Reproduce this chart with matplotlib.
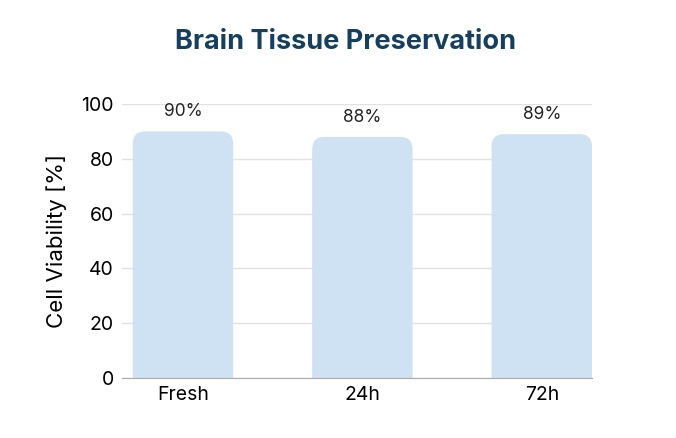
import matplotlib
matplotlib.use("Agg")
import matplotlib.pyplot as plt
from matplotlib.patches import FancyBboxPatch

categories = ["Fresh", "24h", "72h"]
values = [90, 88, 89]
labels = ["90%", "88%", "89%"]

plt.rcParams['font.family'] = ['Inter', 'DejaVu Sans']
fig = plt.figure(figsize=(6.76, 4.38), dpi=100)
ax = fig.add_axes([122/676, 1-378/438, 470/676, 274/438])
ax.set_xlim(-0.34, 2.28)
ax.set_ylim(0, 100)
w = 0.56
for i, v in enumerate(values):
    p = FancyBboxPatch((i - w/2, -6), w, v + 6,
                       boxstyle="round,pad=0,rounding_size=0.07",
                       mutation_aspect=65, fc="#cfe2f3", ec="none", zorder=2)
    ax.add_patch(p)
    ax.text(i, v + 4, labels[i], ha="center", va="bottom", fontsize=12.5, color="#222222")
ax.set_xticks(range(len(categories)))
ax.set_xticklabels(categories, fontsize=14)
ax.set_yticks([0, 20, 40, 60, 80, 100])
ax.tick_params(axis='y', labelsize=14, length=0, pad=6)
ax.tick_params(axis='x', length=0, pad=6)
ax.grid(axis='y', color="#e2e2e2", lw=1, zorder=0)
for s in ['top', 'right', 'left']:
    ax.spines[s].set_visible(False)
ax.spines['bottom'].set_color("#aaaaaa")
ax.spines['bottom'].set_zorder(3)
ax.set_ylabel("Cell Viability [%]", fontsize=16, labelpad=10)
fig.text(346/676, 1-42/438, "Brain Tissue Preservation", ha="center", va="center",
         fontsize=19.5, fontweight="bold", color="#163f5e")
fig.savefig("out.png", dpi=100)
